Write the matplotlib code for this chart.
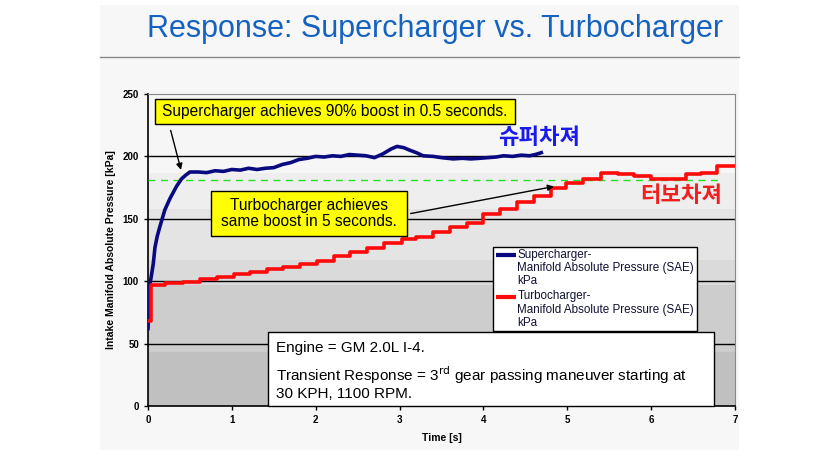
import matplotlib
matplotlib.use("Agg")
import matplotlib.pyplot as plt
from matplotlib.patches import Rectangle

plt.rcParams['font.family'] = ['Liberation Sans', 'Noto Sans CJK KR', 'DejaVu Sans']

# --- data ---
super_t = [0, 0.025, 0.063, 0.083, 0.11, 0.143, 0.2, 0.26, 0.34, 0.4, 0.45, 0.5, 0.6, 0.7, 0.8,
           0.9, 1.0, 1.1, 1.2, 1.3, 1.4, 1.5, 1.6, 1.7, 1.8, 1.9, 2.0, 2.1, 2.2, 2.3, 2.4,
           2.5, 2.6, 2.7, 2.8, 2.9, 2.97, 3.05, 3.12, 3.2, 3.28, 3.4, 3.5, 3.64, 3.75, 3.85,
           3.96, 4.05, 4.15, 4.24, 4.35, 4.45, 4.55, 4.62, 4.69]
super_kpa = [62, 98, 114, 127, 136, 144, 157, 166, 176, 182, 185, 187.5, 187.5, 187, 188.5,
             188, 189.5, 189, 190.5, 189.5, 190.5, 191, 193.5, 195, 197.5, 198.5, 200, 199.5,
             200.5, 200, 201.5, 201, 200.5, 199, 202, 206, 208, 207, 205, 203, 200.5, 200,
             199, 198, 198.5, 198, 198.5, 199, 199.5, 200.5, 200, 201, 200.5, 201.5, 203]

turbo_t = [0, 0.03, 0.2, 0.42, 0.62, 0.82, 1.02, 1.22, 1.42, 1.61, 1.81, 2.01, 2.22, 2.41,
           2.61, 2.81, 3.03, 3.2, 3.4, 3.6, 3.8, 4.0, 4.2, 4.4, 4.6, 4.8, 4.99, 5.19, 5.4,
           5.6, 5.8, 6.0, 6.42, 6.6, 6.78, 7.0]
turbo_kpa = [68, 97, 98.5, 99.5, 101.5, 103.6, 105.8, 107.6, 109.5, 111, 113.5, 116, 120,
             123.5, 127, 130.3, 133.6, 135.7, 139.7, 143.2, 147, 153.8, 157.6, 163.7, 168.3,
             174.4, 179, 181.6, 186.4, 186, 184.3, 182, 186, 186.4, 192.6, 192.6]

series_names = ['Supercharger-\nManifold Absolute Pressure (SAE)\nkPa',
                'Turbocharger-\nManifold Absolute Pressure (SAE)\nkPa']
series_colors = ['#0a0a80', '#ff0a0a']

boost_90 = 181
band_edges = [0, 43, 97, 117, 158, 187, 250]
band_colors = ['#c0c0c0', '#cdcdcd', '#dadada', '#e4e4e4', '#eeeeee', '#f6f6f6']

fig = plt.figure(figsize=(8.4, 4.66), dpi=100)
fig.patch.set_facecolor('white')

# slide panel + title, on a background axes
bg = fig.add_axes([0, 0, 1, 1], zorder=-1)
bg.set_xlim(0, 840)
bg.set_ylim(466, 0)
bg.axis('off')
bg.add_patch(Rectangle((100, 5), 639, 445, facecolor='#f7f7f7', edgecolor='none'))
bg.plot([100, 739], [57, 57], color='#888888', lw=1)
bg.text(435, 29, 'Response: Supercharger vs. Turbocharger', ha='center', va='center',
        fontsize=22, color='#1562c0')

ax = fig.add_axes([148 / 840, 1 - 406 / 466, 587 / 840, 312 / 466])
ax.set_xlim(0, 7)
ax.set_ylim(0, 250)

for lo, hi, c in zip(band_edges[:-1], band_edges[1:], band_colors):
    ax.axhspan(lo, hi, color=c, zorder=0, lw=0)
for g in [50, 100, 150, 200]:
    ax.axhline(g, color='black', lw=1, zorder=1)

ax.plot(super_t, super_kpa, color=series_colors[0], lw=2.6, zorder=4)
ax.plot(turbo_t, turbo_kpa, color=series_colors[1], lw=2.6, drawstyle='steps-post', zorder=4)
ax.plot([0, 6.82], [boost_90, boost_90], color='#22e022', lw=1, ls=(0, (5, 4)), zorder=3)

ax.set_xticks(range(0, 8))
ax.set_yticks(range(0, 251, 50))
ax.tick_params(labelsize=7, length=3, width=1, direction='out')
for lab in ax.get_xticklabels() + ax.get_yticklabels():
    lab.set_fontweight('bold')
ax.set_xlabel('Time [s]', fontsize=7.5, fontweight='bold', labelpad=6)
ax.set_ylabel('Intake Manifold Absolute Pressure [kPa]', fontsize=7.5, fontweight='bold', labelpad=5)
for s in ['top', 'right']:
    ax.spines[s].set_color('#888888')
for s in ['left', 'bottom']:
    ax.spines[s].set_linewidth(1.2)

# yellow callouts
ax.add_patch(Rectangle((0.083, 226), 4.293, 20, facecolor='#ffff00', edgecolor='black',
                       lw=1, zorder=6))
ax.text(2.23, 236, 'Supercharger achieves 90% boost in 0.5 seconds.', ha='center',
        va='center', fontsize=11.2, zorder=7)
ax.annotate('', xy=(0.402, 187), xytext=(0.262, 223), zorder=6,
            arrowprops=dict(arrowstyle='-|>', color='black', lw=1, mutation_scale=9))

ax.add_patch(Rectangle((0.748, 136.2), 2.34, 36.1, facecolor='#ffff00', edgecolor='black',
                       lw=1, zorder=6))
ax.text(1.918, 154.3, 'Turbocharger achieves\nsame boost in 5 seconds.', ha='center',
        va='center', fontsize=11.2, linespacing=1.1, zorder=7)
ax.annotate('', xy=(4.874, 176.3), xytext=(3.1, 153.8), zorder=5,
            arrowprops=dict(arrowstyle='-|>', color='black', lw=1, mutation_scale=9))

ax.text(4.66, 215.5, '슈퍼차져', ha='center', va='center', fontsize=16, fontweight='bold',
        color='#1a1af0', family=['Noto Sans CJK KR'], zorder=7)
ax.text(6.36, 168.3, '터보차져', ha='center', va='center', fontsize=16, fontweight='bold',
        color='#f02020', family=['Noto Sans CJK KR'], zorder=7)

# engine info box
ax.add_patch(Rectangle((1.431, 0), 5.319, 59.3, facecolor='white', edgecolor='black',
                       lw=1, zorder=6, clip_on=False))
ax.text(1.53, 46.5, 'Engine = GM 2.0L I-4.', ha='left', va='center', fontsize=11, zorder=7)
ax.text(1.53, 19, 'Transient Response = 3$^{\\rm rd}$ gear passing maneuver starting at\n'
        '30 KPH, 1100 RPM.', ha='left', va='center', fontsize=11, linespacing=1.1, zorder=7)

# legend box, handle aligned with the first text line
ax.add_patch(Rectangle((4.114, 60.1), 2.433, 67.3, facecolor='white', edgecolor='black',
                       lw=1, zorder=8))
for name, col, y_top in zip(series_names, series_colors, [125.6, 92.6]):
    ax.plot([4.15, 4.39], [y_top - 5, y_top - 5], color=col, lw=3, zorder=9,
            solid_capstyle='butt')
    ax.text(4.405, y_top, name, ha='left', va='top', fontsize=8.4, linespacing=1.12,
            color='#111133', zorder=9)

fig.savefig('out.png', dpi=100)
